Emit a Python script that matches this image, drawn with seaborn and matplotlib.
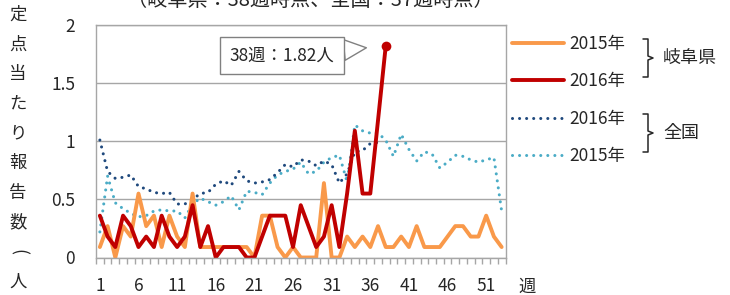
import numpy as np
import matplotlib.pyplot as plt
from matplotlib.lines import Line2D
import seaborn as sns

# データ（週ごとの定点当たり報告数）
weeks = np.arange(1, 54)
gifu_2015 = [0.09, 0.27, 0.00, 0.27, 0.18, 0.55, 0.27, 0.36, 0.09, 0.36,
             0.18, 0.09, 0.55, 0.09, 0.09, 0.09, 0.09, 0.09, 0.09, 0.09,
             0.00, 0.36, 0.36, 0.09, 0.00, 0.09, 0.00, 0.00, 0.00, 0.64,
             0.00, 0.00, 0.18, 0.09, 0.18, 0.09, 0.27, 0.09, 0.09, 0.18,
             0.09, 0.27, 0.09, 0.09, 0.09, 0.18, 0.27, 0.27, 0.18, 0.18,
             0.36, 0.18, 0.09]
gifu_2016 = [0.36, 0.18, 0.09, 0.36, 0.27, 0.09, 0.18, 0.09, 0.36, 0.18,
             0.09, 0.18, 0.45, 0.09, 0.27, 0.00, 0.09, 0.09, 0.09, 0.00,
             0.00, 0.18, 0.36, 0.36, 0.36, 0.09, 0.45, 0.27, 0.09, 0.18,
             0.45, 0.09, 0.55, 1.09, 0.55, 0.55, 1.18, 1.82]
zenkoku_2016 = [1.01, 0.74, 0.68, 0.69, 0.71, 0.61, 0.59, 0.56, 0.55, 0.56,
                0.46, 0.46, 0.50, 0.55, 0.56, 0.63, 0.66, 0.62, 0.74, 0.66,
                0.64, 0.65, 0.67, 0.73, 0.80, 0.78, 0.84, 0.83, 0.79, 0.83,
                0.80, 0.64, 0.72, 0.91, 0.92, 0.98, 0.99]
zenkoku_2015 = [0.22, 0.70, 0.47, 0.42, 0.38, 0.35, 0.36, 0.40, 0.41, 0.40,
                0.40, 0.34, 0.46, 0.51, 0.48, 0.45, 0.48, 0.53, 0.41, 0.57,
                0.56, 0.54, 0.64, 0.71, 0.74, 0.76, 0.82, 0.72, 0.74, 0.82,
                0.86, 0.88, 0.65, 1.14, 1.09, 1.07, 1.07, 1.01, 0.87, 1.06,
                0.93, 0.83, 0.91, 0.89, 0.77, 0.82, 0.88, 0.87, 0.84, 0.82,
                0.84, 0.86, 0.40]
week_labels = [str(w) for w in range(1, 54, 5)]

c_or = "#F9994A"
c_red = "#C00000"
c_navy = "#1F497D"
c_light = "#4BACC6"
c_grid = "#A6A6A6"
c_text = "#262626"

sns.set_theme(style="white")
plt.rcParams["font.family"] = ["Noto Sans CJK JP", "DejaVu Sans"]
plt.rcParams["font.size"] = 12.5
plt.rcParams["text.color"] = c_text

W, H = 730, 295
def px(x, y):
    return x / W, 1 - y / H

fig = plt.figure(figsize=(W / 100, H / 100), dpi=100)
ax = fig.add_axes([96 / W, 1 - 257.5 / H, 409.5 / W, 232.5 / H])

dot = (0, (0.01, 2.3))
sns.lineplot(x=weeks[:len(zenkoku_2015)], y=zenkoku_2015, ax=ax, color=c_light,
             linewidth=2.2, linestyle=dot, dash_capstyle="round")
sns.lineplot(x=weeks[:len(zenkoku_2016)], y=zenkoku_2016, ax=ax, color=c_navy,
             linewidth=2.2, linestyle=dot, dash_capstyle="round")
sns.lineplot(x=weeks[:len(gifu_2015)], y=gifu_2015, ax=ax, color=c_or,
             linewidth=2.8)
n16 = len(gifu_2016)
sns.lineplot(x=weeks[:n16], y=gifu_2016, ax=ax, color=c_red, linewidth=2.8,
             marker="o", markersize=7, markevery=[n16 - 1], markeredgewidth=0)

# 軸
ax.set_xlim(0.5, 53.5)
ax.set_ylim(0, 2)
ax.set_yticks([0, 0.5, 1, 1.5, 2])
ax.set_yticklabels(["0", "0.5", "1", "1.5", "2"])
ax.set_xticks(range(1, 54, 5))
ax.set_xticklabels(week_labels)
ax.set_xticks(np.arange(0.5, 54, 1), minor=True)
ax.tick_params(axis="y", length=0, pad=15, labelcolor=c_text, labelsize=12.5)
ax.tick_params(axis="x", which="major", length=0, pad=14, labelcolor=c_text,
               labelsize=12.5)
ax.tick_params(axis="x", which="minor", bottom=True, length=4.5, width=1,
               color=c_grid, direction="out")
ax.yaxis.grid(True, color=c_grid, linewidth=1)
ax.set_xlabel("")
ax.set_ylabel("")
for s in ax.spines.values():
    s.set_color(c_grid)
    s.set_linewidth(1)
ax.text(1.053, -0.125, "週", transform=ax.transAxes, ha="center", va="center",
        fontsize=12.5)

# 最大値の吹き出し
ax.annotate(f"{weeks[n16 - 1]}週：{gifu_2016[-1]:.2f}人",
            xy=(weeks[n16 - 1], gifu_2016[-1]), xytext=(-104, -10),
            textcoords="offset pixels", ha="center", va="center", fontsize=12.5,
            bbox=dict(boxstyle="square,pad=0.55", fc="white", ec="#808080", lw=1),
            arrowprops=dict(arrowstyle="wedge,tail_width=1.2,shrink_factor=0.5",
                            fc="white", ec="#808080", lw=1, shrinkA=0,
                            shrinkB=14))

# 縦書きの軸ラベル
for i, ch in enumerate("定点当たり報告数(人)"):
    rot = -90 if ch in "()" else 0
    fig.text(*px(18, 15 + 29.6 * i), ch, ha="center", va="center",
             rotation=rot, fontsize=12.5)

# タイトル（上が切れている）
fig.text(*px(310, 0), "（岐阜県：38週時点、全国：37週時点）", ha="center",
         va="center", fontsize=14.5)

# 凡例
handles = [Line2D([], [], color=c_or, lw=2.8),
           Line2D([], [], color=c_red, lw=2.8),
           Line2D([], [], color=c_navy, lw=2.2, linestyle=dot, dash_capstyle="round"),
           Line2D([], [], color=c_light, lw=2.2, linestyle=dot, dash_capstyle="round")]
fig.legend(handles, ["2015年", "2016年", "2016年", "2015年"], loc="upper left",
           bbox_to_anchor=px(512, 35), frameon=False, handlelength=3.0,
           handletextpad=0.3, labelspacing=1.12, borderpad=0, borderaxespad=0,
           fontsize=12.5)

def brace(y0, y1, label):
    ym = (y0 + y1) / 2
    xs = [643, 648, 648, 653, 648, 648, 643]
    ys = [y0, y0, ym - 2, ym, ym + 2, y1, y1]
    pts = [px(x, y) for x, y in zip(xs, ys)]
    fig.add_artist(Line2D([p[0] for p in pts], [p[1] for p in pts],
                          color=c_text, lw=1.1, transform=fig.transFigure))
    fig.text(*px(663, ym), label, ha="left", va="center", fontsize=13)

brace(39, 77, "岐阜県")
brace(114, 152, "全国")

fig.savefig("out.png", dpi=100)
